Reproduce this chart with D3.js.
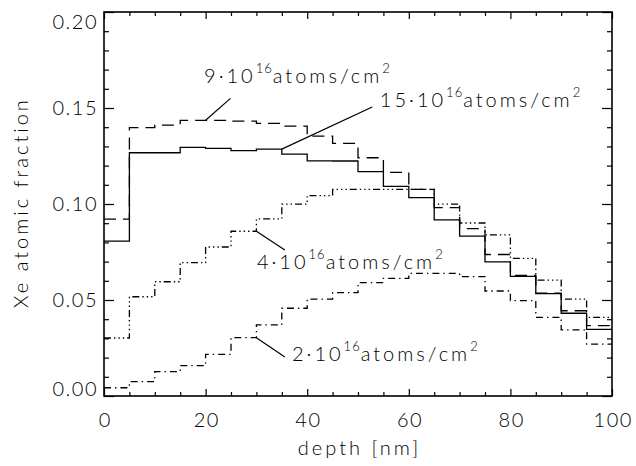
<!DOCTYPE html>
<html>
<head>
<meta charset="utf-8">
<script src="https://cdn.jsdelivr.net/npm/d3@7"></script>
<style>
  html, body { margin: 0; padding: 0; background: #fff; }
  svg { display: block; }
  text { font-family: "Lato", "Open Sans", "DejaVu Sans", sans-serif; font-weight: 300; fill: #000; }
</style>
</head>
<body>
<svg id="chart" width="636" height="466"></svg>
<script>
// Depth bins (left edges, nm); each profile value covers [edge, edge + 5)
const binStart = [0, 5, 10, 15, 20, 25, 30, 35, 40, 45, 50, 55, 60, 65, 70, 75, 80, 85, 90, 95];
const depthEnd = 100;

// Xe atomic fraction per bin for each implanted fluence
const fluence15 = [0.0807, 0.1267, 0.1267, 0.1295, 0.1290, 0.1278, 0.1286, 0.1260, 0.1225, 0.1224,
                   0.1169, 0.1092, 0.1033, 0.0917, 0.0833, 0.0699, 0.0623, 0.0533, 0.0431, 0.0347];
const fluence9  = [0.0921, 0.1398, 0.1411, 0.1436, 0.1436, 0.1432, 0.1420, 0.1406, 0.1354, 0.1316,
                   0.1241, 0.1165, 0.1076, 0.0981, 0.0872, 0.0737, 0.0628, 0.0536, 0.0444, 0.0367];
const fluence4  = [0.0302, 0.0517, 0.0595, 0.0695, 0.0776, 0.0858, 0.0923, 0.0999, 0.1044, 0.1076,
                   0.1076, 0.1076, 0.1076, 0.0999, 0.0901, 0.0839, 0.0717, 0.0604, 0.0505, 0.0410];
const fluence2  = [0.0043, 0.0075, 0.0127, 0.0158, 0.0217, 0.0304, 0.0370, 0.0457, 0.0505, 0.0538,
                   0.0590, 0.0613, 0.0639, 0.0639, 0.0622, 0.0547, 0.0497, 0.0410, 0.0344, 0.0270];

// Fluence coefficients (x 10^16 atoms/cm^2)
const fluenceNames = ["15", "9", "4", "2"];

// Axis ticks
const xTicks = [0, 20, 40, 60, 80, 100];
const xMinor = [5, 10, 15, 25, 30, 35, 45, 50, 55, 65, 70, 75, 85, 90, 95];
const yTicks = [0.00, 0.05, 0.10, 0.15, 0.20];
const yMinor = [0.01, 0.02, 0.03, 0.04, 0.06, 0.07, 0.08, 0.09, 0.11, 0.12, 0.13, 0.14, 0.16, 0.17, 0.18, 0.19];

const svg = d3.select("#chart");
const margin = { left: 104, top: 12, right: 24, bottom: 70 };
const width = 636 - margin.left - margin.right;
const height = 466 - margin.top - margin.bottom;

const x = d3.scaleLinear().domain([0, 100]).range([margin.left, margin.left + width]);
const y = d3.scaleLinear().domain([0, 0.20]).range([margin.top + height, margin.top]);

// Series definitions with line dash styles
const series = [
  { name: fluenceNames[0], values: fluence15, dash: null },
  { name: fluenceNames[1], values: fluence9,  dash: "12,7" },
  { name: fluenceNames[2], values: fluence4,  dash: "7,3,1.4,3,1.4,3,1.4,3" },
  { name: fluenceNames[3], values: fluence2,  dash: "7,4,1.4,4" }
];

const stepLine = d3.line()
  .x(d => x(d[0]))
  .y(d => y(d[1]))
  .curve(d3.curveStepAfter);

series.forEach(s => {
  const pts = binStart.map((b, i) => [b, s.values[i]]);
  pts.push([depthEnd, s.values[s.values.length - 1]]);
  svg.append("path")
    .attr("d", stepLine(pts))
    .attr("fill", "none")
    .attr("stroke", "#000")
    .attr("stroke-width", 1.3)
    .attr("stroke-dasharray", s.dash);
});

// Text styling shared by all labels
const fontSize = 20;
const spacing = 3;
const tickSpacing = 1.5;

// Axes (ticks point inward)
function styleAxis(g) {
  g.select(".domain").remove();
  g.selectAll("line").attr("stroke", "#000").attr("stroke-width", 1.2);
  g.selectAll("text").attr("font-size", fontSize).attr("font-family", null).attr("letter-spacing", tickSpacing + "px");
}

const xAxisG = svg.append("g").attr("transform", `translate(0,${margin.top + height})`)
  .call(d3.axisBottom(x).tickValues(xTicks).tickSize(-7).tickPadding(17).tickFormat(d3.format("d")))
  .call(styleAxis);
xAxisG.selectAll(".tick text").attr("dx", tickSpacing / 2);
svg.append("g").attr("transform", `translate(0,${margin.top + height})`)
  .call(d3.axisBottom(x).tickValues(xMinor).tickSize(-4).tickFormat(""))
  .call(styleAxis);
svg.append("g").attr("transform", `translate(0,${margin.top})`)
  .call(d3.axisTop(x).tickValues(xTicks).tickSize(-7).tickFormat(""))
  .call(styleAxis);
svg.append("g").attr("transform", `translate(0,${margin.top})`)
  .call(d3.axisTop(x).tickValues(xMinor).tickSize(-4).tickFormat(""))
  .call(styleAxis);

const yAxisG = svg.append("g").attr("transform", `translate(${margin.left},0)`)
  .call(d3.axisLeft(y).tickValues(yTicks).tickSize(-10).tickPadding(6).tickFormat(d3.format(".2f")))
  .call(styleAxis);
svg.append("g").attr("transform", `translate(${margin.left},0)`)
  .call(d3.axisLeft(y).tickValues(yMinor).tickSize(-5).tickFormat(""))
  .call(styleAxis);
svg.append("g").attr("transform", `translate(${margin.left + width},0)`)
  .call(d3.axisRight(y).tickValues(yTicks).tickSize(-10).tickFormat(""))
  .call(styleAxis);
svg.append("g").attr("transform", `translate(${margin.left + width},0)`)
  .call(d3.axisRight(y).tickValues(yMinor).tickSize(-5).tickFormat(""))
  .call(styleAxis);

// Keep the end labels of the value axis inside the frame
yAxisG.selectAll(".tick text")
  .attr("dy", d => d === 0.20 ? "0.8em" : d === 0 ? "-0.02em" : "0.34em");

// Frame
svg.append("rect")
  .attr("x", margin.left).attr("y", margin.top)
  .attr("width", width).attr("height", height)
  .attr("fill", "none").attr("stroke", "#000").attr("stroke-width", 1.6);

// Axis titles
svg.append("text")
  .attr("x", x(50)).attr("y", 455).attr("dx", spacing / 2)
  .attr("text-anchor", "middle")
  .attr("font-size", fontSize).attr("letter-spacing", spacing + "px")
  .text("depth [nm]");
svg.append("text")
  .attr("transform", `translate(28,${y(0.10)}) rotate(-90)`)
  .attr("dx", spacing / 2)
  .attr("text-anchor", "middle")
  .attr("font-size", fontSize).attr("letter-spacing", spacing + "px")
  .text("Xe atomic fraction");

// Fluence annotations: leader line from the curve to the label
const annotations = [
  { name: fluenceNames[1], from: [20, fluence9[4]],  to: [24.9, 0.1550], text: [19.7, 0.1630] },
  { name: fluenceNames[0], from: [35, fluence15[6]], to: [52.8, 0.1505], text: [54.3, 0.1505] },
  { name: fluenceNames[2], from: [30, fluence4[5]],  to: [35.6, 0.0760], text: [30.1, 0.0661] },
  { name: fluenceNames[3], from: [30, fluence2[5]],  to: [35.6, 0.0203], text: [37.0, 0.0182] }
];

annotations.forEach(a => {
  svg.append("line")
    .attr("x1", x(a.from[0])).attr("y1", y(a.from[1]))
    .attr("x2", x(a.to[0])).attr("y2", y(a.to[1]))
    .attr("stroke", "#000").attr("stroke-width", 1.2);
  const t = svg.append("text")
    .attr("x", x(a.text[0])).attr("y", y(a.text[1]))
    .attr("font-size", fontSize).attr("letter-spacing", spacing + "px");
  t.append("tspan").text(a.name + "\u00b710");
  t.append("tspan").attr("dy", -10).attr("font-size", 13).attr("letter-spacing", "1px").text("16");
  t.append("tspan").attr("dy", 10).text("atoms/cm");
  t.append("tspan").attr("dy", -10).attr("font-size", 13).text("2");
});
</script>
</body>
</html>
